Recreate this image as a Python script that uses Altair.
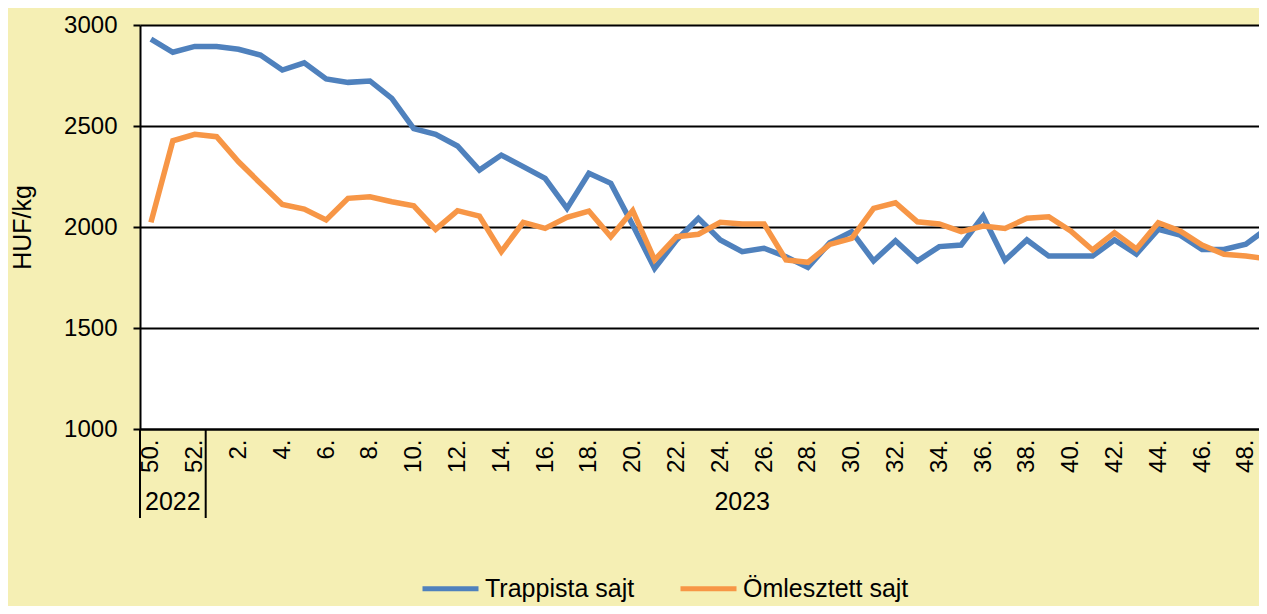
import altair as alt
import pandas as pd

# ---- data ----
weeks = [50, 51, 52] + list(range(1, 50))
years = ["2022"] * 3 + ["2023"] * 49
trappista = [2930, 2865, 2894, 2893, 2880, 2851, 2777, 2813, 2733, 2716, 2723, 2637,
             2487, 2459, 2401, 2282, 2356, 2299, 2241, 2092, 2266, 2216, 2010, 1795,
             1935, 2043, 1936, 1878, 1895, 1853, 1800, 1922, 1977, 1832, 1932, 1832,
             1903, 1911, 2053, 1835, 1936, 1856, 1856, 1856, 1936, 1866, 1988, 1960,
             1889, 1889, 1915, 1995]
omlesztett = [2023, 2427, 2459, 2447, 2323, 2216, 2112, 2089, 2035, 2142, 2150, 2125,
              2105, 1988, 2081, 2054, 1878, 2023, 1993, 2048, 2079, 1952, 2081, 1837,
              1952, 1964, 2023, 2015, 2015, 1837, 1825, 1914, 1944, 2092, 2120, 2026,
              2015, 1977, 2005, 1993, 2043, 2051, 1980, 1886, 1972, 1891, 2021, 1980,
              1911, 1865, 1856, 1843]
series_names = ["Trappista sajt", "Ömlesztett sajt"]
series_colors = ["#4F81BD", "#F79646"]
y_ticks = [1000, 1500, 2000, 2500, 3000]

week_labels = [f"{w}." for w in weeks]

rows = []
for i, w in enumerate(weeks):
    rows.append({"idx": i, "series": series_names[0], "value": trappista[i]})
    rows.append({"idx": i, "series": series_names[1], "value": omlesztett[i]})
df = pd.DataFrame(rows)

# year groups
year_names = []
year_start = []
year_end = []
for i, y in enumerate(years):
    if not year_names or year_names[-1] != y:
        year_names.append(y)
        year_start.append(i)
        year_end.append(i)
    else:
        year_end[-1] = i
year_df = pd.DataFrame({"year": year_names,
                        "center": [(s + e) / 2 for s, e in zip(year_start, year_end)]})
sep_df = pd.DataFrame({"pos": [s - 0.5 for s in year_start]})

x_domain = [-0.5, 50.6]
label_array = "[" + ",".join(f"'{l}'" for l in week_labels) + "]"

W, H = 1119, 404
x_scale = alt.Scale(domain=x_domain, nice=False, zero=False)

lines = alt.Chart(df).mark_line(strokeWidth=5.5, clip=True).encode(
    x=alt.X("idx:Q", scale=x_scale,
            axis=alt.Axis(values=list(range(0, len(weeks), 2)),
                          labelExpr=f"{label_array}[datum.value]",
                          labelAngle=-90, labelFontSize=24, labelColor="black",
                          labelPadding=10, ticks=False, grid=False,
                          domainColor="black", domainWidth=2, title=None,
                          labelFont="Liberation Sans")),
    y=alt.Y("value:Q", scale=alt.Scale(domain=[1000, 3000], nice=False, zero=False),
            axis=alt.Axis(values=y_ticks, format="d", labelFontSize=24, labelColor="black",
                          labelPadding=16, tickSize=7, tickColor="black", tickWidth=2,
                          grid=True, gridColor="black", gridWidth=2,
                          domainColor="black", domainWidth=2,
                          title="HUF/kg", titleFontSize=25, titleFontWeight="normal",
                          titleColor="black", titleFont="Liberation Sans",
                          titleAngle=-90, titleAlign="center", titleBaseline="middle",
                          titleX=-118, titleY=202, labelFont="Liberation Sans")),
    color=alt.Color("series:N", sort=series_names,
                    scale=alt.Scale(domain=series_names, range=series_colors),
                    legend=alt.Legend(orient="none", legendX=280, legendY=533,
                                      direction="horizontal", title=None,
                                      symbolType="stroke", symbolStrokeWidth=5,
                                      symbolSize=3136, labelFontSize=25,
                                      labelFont="Liberation Sans", labelColor="black",
                                      labelOffset=4, labelLimit=0, columnPadding=35,
                                      padding=0)),
    order="idx:Q",
)

seps = alt.Chart(sep_df).mark_rule(color="black", strokeWidth=2, clip=False).encode(
    x=alt.X("pos:Q", scale=x_scale),
    y=alt.value(404), y2=alt.value(493),
)

year_text = alt.Chart(year_df).mark_text(fontSize=25, font="Liberation Sans",
                                         color="black", baseline="middle",
                                         clip=False).encode(
    x=alt.X("center:Q", scale=x_scale),
    y=alt.value(477),
    text="year:N",
)

chart = alt.layer(lines, seps, year_text).properties(
    width=W, height=H,
    background="#F5EFB4",
    padding={"left": 132, "top": 17, "right": 0, "bottom": 177},
    autosize=alt.AutoSizeParams(type="none"),
).configure_view(stroke=None, fill="white")

chart.save("out.html", embed_options={"renderer": "svg", "actions": False})
